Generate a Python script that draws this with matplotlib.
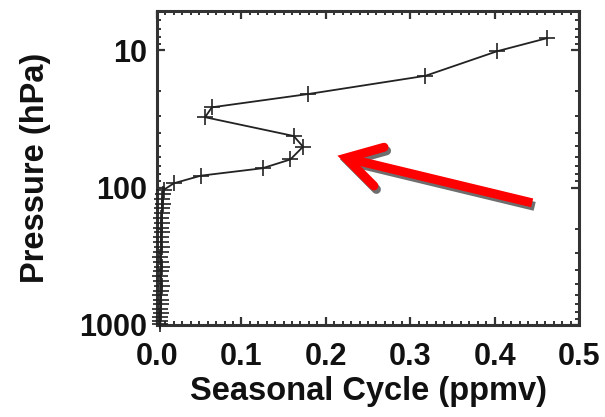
import matplotlib
matplotlib.use("Agg")
import matplotlib.pyplot as plt
from matplotlib.ticker import FixedLocator, FixedFormatter, MultipleLocator, LogLocator, NullFormatter
from matplotlib.transforms import ScaledTranslation

# ---- data ----
pressure_hpa = [8.2, 10.2, 15.4, 20.9, 26.1, 30.8, 42.2, 50.5, 62.5, 72.4, 82.0, 93.1,
                104, 112, 121, 131, 142, 154, 167, 181, 196, 212, 230, 250, 272, 295,
                320, 347, 376, 408, 442, 479, 519, 562, 608, 657, 709, 763, 819, 875, 930, 980]
seasonal_cycle = [0.462, 0.403, 0.318, 0.179, 0.065, 0.057, 0.162, 0.173, 0.158, 0.125, 0.052, 0.020,
                  0.008, 0.007, 0.006, 0.007, 0.006, 0.006, 0.005, 0.006, 0.005, 0.006, 0.005, 0.005,
                  0.006, 0.005, 0.004, 0.005, 0.006, 0.005, 0.004, 0.005, 0.006, 0.005, 0.004, 0.005,
                  0.005, 0.004, 0.005, 0.004, 0.004, 0.004]
x_ticks = [0.0, 0.1, 0.2, 0.3, 0.4, 0.5]
x_ticklabels = ["0.0", "0.1", "0.2", "0.3", "0.4", "0.5"]
y_ticks = [10, 100, 1000]
y_ticklabels = ["10", "100", "1000"]
xlabel = "Seasonal Cycle (ppmv)"
ylabel = "Pressure (hPa)"

plt.rcParams['font.family'] = ['Liberation Sans', 'DejaVu Sans']
plt.rcParams['font.weight'] = 'bold'

W, H = 605, 417
fig = plt.figure(figsize=(W / 100, H / 100), dpi=100)
ax = fig.add_axes([157 / W, 1 - 325 / H, 422 / W, 314 / H])

ax.plot(seasonal_cycle, pressure_hpa, color='#222222', lw=1.3, marker='+',
        markersize=12, markeredgewidth=1.2, zorder=3, clip_on=False)

ax.set_yscale('log')
ax.set_xlim(0, 0.5)
ax.set_ylim(1000, 5.2)

ax.xaxis.set_major_locator(FixedLocator(x_ticks))
ax.xaxis.set_major_formatter(FixedFormatter(x_ticklabels))
ax.xaxis.set_minor_locator(MultipleLocator(0.01))
ax.yaxis.set_major_locator(FixedLocator(y_ticks))
ax.yaxis.set_major_formatter(FixedFormatter(y_ticklabels))
ax.yaxis.set_minor_locator(LogLocator(base=10, subs=range(2, 10)))
ax.yaxis.set_minor_formatter(NullFormatter())

ax.tick_params(which='both', direction='in', top=True, right=True, colors='#333333',
               labelcolor='#111111')
ax.tick_params(which='major', length=6, width=1.6)
ax.tick_params(which='minor', length=3, width=1.4)
ax.tick_params(axis='x', which='major', labelsize=22, pad=12)
ax.tick_params(axis='y', which='major', labelsize=22, pad=7)
for lab in ax.get_xticklabels() + ax.get_yticklabels():
    lab.set_fontweight('bold')

for s in ax.spines.values():
    s.set_linewidth(2.2)
    s.set_color('#333333')

ax.set_xlabel(xlabel, fontsize=23.5, fontweight='bold', color='#111111', labelpad=3)
ax.set_ylabel(ylabel, fontsize=23.5, fontweight='bold', color='#111111', labelpad=20)

# ---- red annotation arrow (axes fraction coordinates) ----
tip = (0.448, 0.532)
tail = (0.889, 0.389)
barb1 = (0.538, 0.566)
barb2 = (0.514, 0.443)

shadow_tr = ax.transAxes + ScaledTranslation(2.5 / 100, -3.5 / 100, fig.dpi_scale_trans)
for tr, col, z in [(shadow_tr, '#6e6e6e', 4), (ax.transAxes, '#ff0000', 5)]:
    ax.plot([tail[0], tip[0]], [tail[1], tip[1]], color=col, lw=6.5, transform=tr,
            solid_capstyle='butt', zorder=z, clip_on=False)
    ax.plot([barb1[0], tip[0], barb2[0]], [barb1[1], tip[1], barb2[1]], color=col, lw=6.5,
            transform=tr, solid_capstyle='round', solid_joinstyle='miter', zorder=z, clip_on=False)

fig.savefig('out.png', dpi=100)
